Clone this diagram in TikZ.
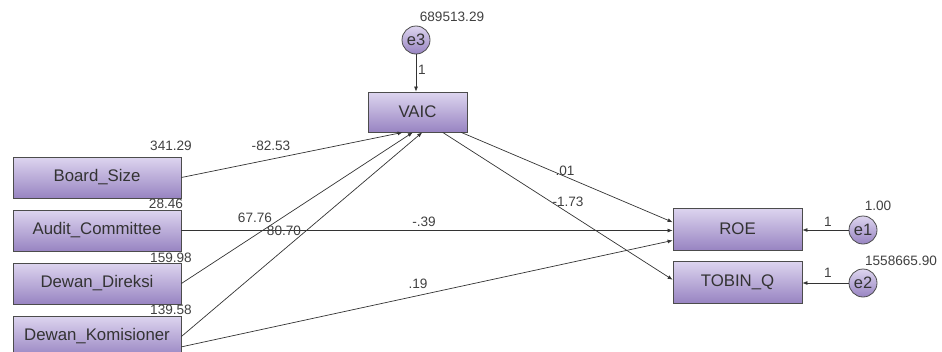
\documentclass[tikz,border=0pt]{standalone}
\usepackage{fontspec}
\setmainfont{Liberation Sans}
\usetikzlibrary{arrows.meta}
\definecolor{boxtop}{HTML}{DDD5EF}
\definecolor{boxbot}{HTML}{9884C2}
\definecolor{linegray}{HTML}{333333}
\begin{document}
\begin{tikzpicture}[x=1pt,y=-1pt,
  var/.style={draw=black!70,line width=0.8pt,top color=boxtop,bottom color=boxbot,
    minimum width=168pt,minimum height=41pt,inner sep=0pt,
    font=\fontsize{16.8}{18}\selectfont,text=black!80},
  err/.style={circle,draw=black!70,line width=0.8pt,top color=boxtop,bottom color=boxbot,
    minimum size=28pt,inner sep=0pt,font=\fontsize{16.5}{18}\selectfont,text=black!80},
  path/.style={draw=linegray,line width=0.7pt,-{Latex[length=5pt,width=4pt]}},
  est/.style={font=\fontsize{13.6}{15}\selectfont,text=black!75,inner sep=0pt}]
\useasboundingbox (0,0) rectangle (942,351);

% observed variables
\node[var] (BS) at (97,177.5) {Board\_Size};
\node[var] (AC) at (97,230.5) {Audit\_Committee};
\node[var] (DD) at (97,283.5) {Dewan\_Direksi};
\node[var] (DK) at (97,336.5) {Dewan\_Komisioner};
\node[var,minimum width=99pt,minimum height=40pt] (VAIC) at (417.5,112) {VAIC};
\node[var,minimum width=129pt,minimum height=42pt] (ROE) at (737.5,229) {ROE};
\node[var,minimum width=129pt,minimum height=42pt] (TQ) at (737.5,282) {TOBIN\_Q};

% error terms
\node[err] (e3) at (416,40) {e3};
\node[err] (e1) at (863,230) {e1};
\node[err] (e2) at (863,283) {e2};

% paths
\draw[path] (e3.south) -- (e3.south |- VAIC.north);
\draw[path] (BS.east) -- (VAIC.-126);
\draw[path] (DD.east) -- (VAIC.-103);
\draw[path] (DK.east) -- (VAIC.-77);
\draw[path] (AC.east) -- (AC.east -| ROE.west);
\draw[path] (DK.-7) -- (ROE.-170);
\draw[path] (VAIC.-25) -- (ROE.174);
\draw[path] (VAIC.-39) -- (TQ.178);
\draw[path] (e1.west) -- (e1.west -| ROE.east);
\draw[path] (e2.west) -- (e2.west -| TQ.east);

% variances
\node[est] (vE3) at (452,17) {689513.29};
\node[est] (vBS) at (171,146) {341.29};
\node[est] (vAC) at (166,204) {28.46};
\node[est] (vDD) at (171,258) {159.98};
\node[est] (vDK) at (171,310) {139.58};
\node[est] (vE1) at (878,206) {1.00};
\node[est] (vE2) at (901,261) {1558665.90};

% estimates
\node[est] (wBS) at (271,146) {-82.53};
\node[est] (wDD) at (255,218) {67.76};
\node[est] (wDK) at (284,231) {80.70};
\node[est] (wAC) at (424,222) {-.39};
\node[est] (wDR) at (418,284) {.19};
\node[est] (wVR) at (565,171) {.01};
\node[est] (wVT) at (568,202) {-1.73};
\node[est] (fE3) at (422,70) {1};
\node[est] (fE1) at (828,222) {1};
\node[est] (fE2) at (828,273) {1};
\end{tikzpicture}
\end{document}
